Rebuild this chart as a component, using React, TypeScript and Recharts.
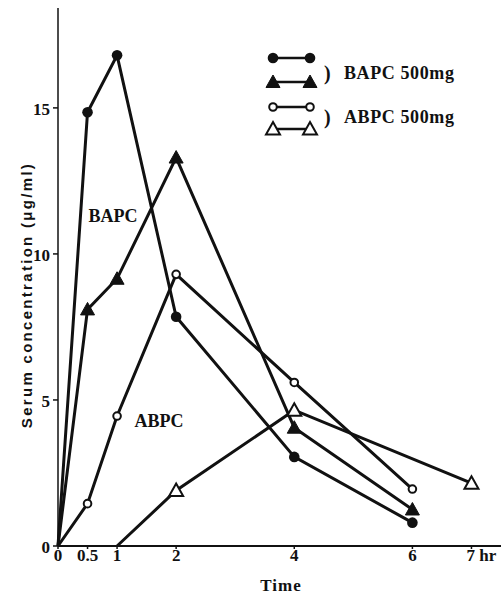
import { LineChart, Line, XAxis, YAxis, Legend, ReferenceDot } from 'recharts';

// hours after dosing
const hours = [0, 0.5, 1, 2, 4, 6];
const abpcTriangleHours = [1, 2, 4, 7];

// serum concentration, µg/ml
const bapcCircle = [0, 14.85, 16.8, 7.85, 3.05, 0.8];
const bapcTriangle = [0, 8.1, 9.15, 13.3, 4.05, 1.25];
const abpcCircle = [0, 1.45, 4.45, 9.3, 5.6, 1.95];
const abpcTriangle = [0, 1.9, 4.65, 2.15];

const xTicks = [0, 0.5, 1, 2, 4, 6, 7];
const yTicks = [0, 5, 10, 15];
const legendGroups = ['BAPC 500mg', 'ABPC 500mg'];

const toPoints = (xs: number[], ys: number[]) => xs.map((x, i) => ({ x, y: ys[i] }));

const INK = '#111';
const SERIF = '"Liberation Serif", "Times New Roman", serif';
const SANS = '"Liberation Sans", Arial, sans-serif';

type Kind = 'dot' | 'tri' | 'ring' | 'delta';

function Marker({ cx, cy, kind }: { cx: number; cy: number; kind: Kind }) {
  if (kind === 'dot') return <circle cx={cx} cy={cy} r={5.3} fill={INK} />;
  if (kind === 'ring') return <circle cx={cx} cy={cy} r={3.8} fill="#fff" stroke={INK} strokeWidth={2} />;
  const pts = `${cx},${cy - 7} ${cx + 7},${cy + 5.5} ${cx - 7},${cy + 5.5}`;
  if (kind === 'tri') return <polygon points={pts} fill={INK} stroke={INK} strokeWidth={1} />;
  return <polygon points={pts} fill="#fff" stroke={INK} strokeWidth={2} strokeLinejoin="miter" />;
}

// no marker where a curve starts on the time axis
const dotFor = (kind: Kind) => (props: any) => {
  const { cx, cy, payload, index } = props;
  if (!payload || payload.y === 0) return <g key={`d-${kind}-${index}`} />;
  return <Marker key={`d-${kind}-${index}`} cx={cx} cy={cy} kind={kind} />;
};

function XTick({ x, y, payload }: any) {
  const v = payload.value;
  if (v === 7) {
    return (
      <text x={x - 5} y={y} dy={12} textAnchor="start" fontFamily={SERIF} fontWeight="bold" fontSize={17} fill={INK}>
        7 hr
      </text>
    );
  }
  return (
    <text x={x} y={y} dy={12} textAnchor="middle" fontFamily={SERIF} fontWeight="bold" fontSize={17} fill={INK}>
      {v === 0.5 ? '0.5' : v}
    </text>
  );
}

function YTick({ x, y, payload }: any) {
  return (
    <text x={x} y={y} dy={7} textAnchor="end" fontFamily={SERIF} fontWeight="bold" fontSize={17} fill={INK}>
      {payload.value}
    </text>
  );
}

function YTitle() {
  return (
    <text
      transform="translate(32, 295) rotate(-90)"
      textAnchor="middle"
      fontFamily={SANS}
      fontWeight="bold"
      fontSize={15}
      letterSpacing={2.3}
      fill={INK}
    >
      Serum concentration (μg/ml)
    </text>
  );
}

function XTitle() {
  return (
    <text x={281} y={591} textAnchor="middle" fontFamily={SERIF} fontWeight="bold" fontSize={17} letterSpacing={1} fill={INK}>
      Time
    </text>
  );
}

function KeyBox() {
  const rows: Kind[] = ['dot', 'tri', 'ring', 'delta'];
  const rowY = [13, 37, 62, 84];
  return (
    <svg width={230} height={100}>
      {rows.map((k, i) => (
        <g key={k}>
          <line x1={11} x2={48} y1={rowY[i]} y2={rowY[i]} stroke={INK} strokeWidth={2.5} />
          <Marker cx={11} cy={rowY[i]} kind={k} />
          <Marker cx={48} cy={rowY[i]} kind={k} />
        </g>
      ))}
      {legendGroups.map((name, i) => (
        <g key={name} fontFamily={SERIF} fontWeight="bold" fill={INK}>
          <text x={62} y={35 + i * 44} fontSize={20}>)</text>
          <text x={82} y={34 + i * 44} fontSize={18} letterSpacing={0.6}>
            {name}
          </text>
        </g>
      ))}
    </svg>
  );
}

export default function App() {
  const lineProps = {
    type: 'linear' as const,
    dataKey: 'y',
    stroke: INK,
    strokeWidth: 3,
    isAnimationActive: false,
    activeDot: false,
  };

  return (
    <div style={{ position: 'absolute', left: 0, top: 0, background: '#fff' }}>
      <LineChart width={503} height={594} margin={{ top: 8, right: 2, bottom: 0, left: 0 }}>
        <XAxis
          type="number"
          dataKey="x"
          domain={[0, 7.5]}
          ticks={xTicks}
          interval={0}
          height={48}
          tick={<XTick />}
          tickSize={3}
          tickMargin={0}
          axisLine={{ stroke: INK, strokeWidth: 2 }}
          tickLine={{ stroke: INK, strokeWidth: 1.5 }}
          label={<XTitle />}
        />
        <YAxis
          type="number"
          domain={[0, 18.42]}
          ticks={yTicks}
          interval={0}
          width={58}
          tickSize={5}
          tickMargin={3}
          tick={<YTick />}
          axisLine={{ stroke: INK, strokeWidth: 1.5 }}
          tickLine={{ stroke: INK, strokeWidth: 1.5 }}
          label={<YTitle />}
        />

        <Line {...lineProps} data={toPoints(hours, bapcCircle)} dot={dotFor('dot')} name="BAPC 500mg" />
        <Line {...lineProps} data={toPoints(hours, bapcTriangle)} dot={dotFor('tri')} name="BAPC 500mg" />
        <Line {...lineProps} data={toPoints(hours, abpcCircle)} dot={dotFor('ring')} name="ABPC 500mg" />
        <Line {...lineProps} data={toPoints(abpcTriangleHours, abpcTriangle)} dot={dotFor('delta')} name="ABPC 500mg" />

        <ReferenceDot
          x={0.93}
          y={11.32}
          r={0}
          fill="none"
          stroke="none"
          label={{ value: 'BAPC', position: 'center', fontFamily: SERIF, fontWeight: 'bold', fontSize: 18, fill: INK }}
        />
        <ReferenceDot
          x={1.71}
          y={4.28}
          r={0}
          fill="none"
          stroke="none"
          label={{ value: 'ABPC', position: 'center', fontFamily: SERIF, fontWeight: 'bold', fontSize: 18, fill: INK }}
        />

        <Legend
          layout="vertical"
          align="center"
          verticalAlign="middle"
          content={<KeyBox />}
          wrapperStyle={{ position: 'absolute', left: 262, top: 45, width: 230, height: 100 }}
        />
      </LineChart>
    </div>
  );
}
